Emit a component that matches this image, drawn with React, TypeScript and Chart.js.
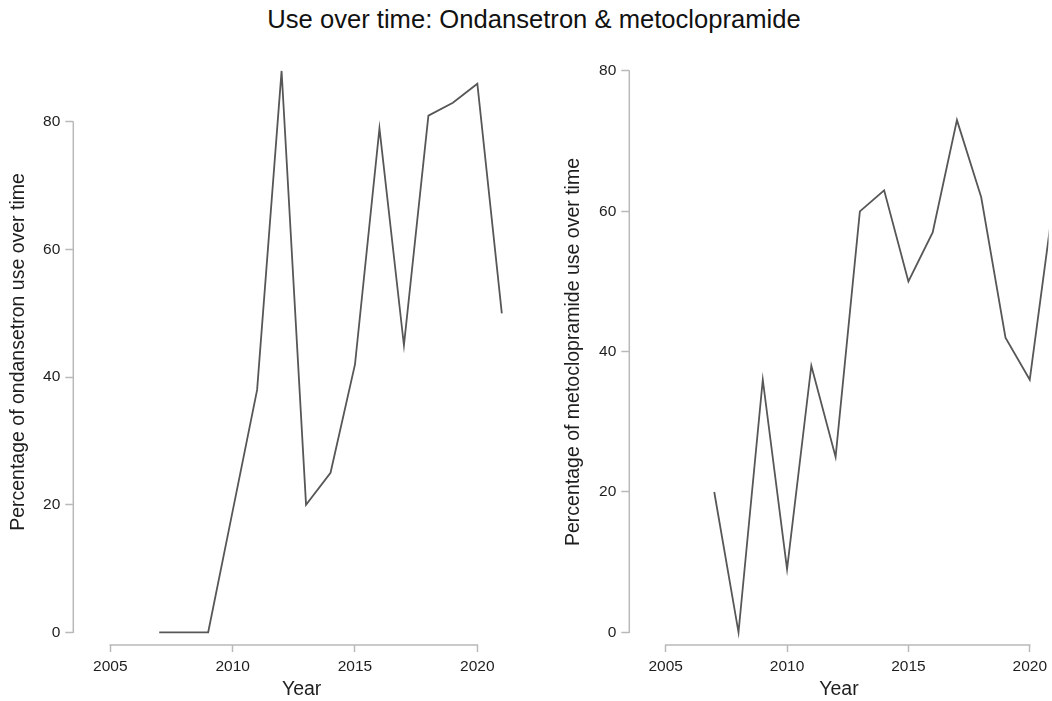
import React, { useEffect, useRef } from "react";
import { Chart, registerables } from "chart.js";

Chart.register(...registerables);

// ---- data ----
const years = [2007, 2008, 2009, 2010, 2011, 2012, 2013, 2014, 2015, 2016, 2017, 2018, 2019, 2020, 2021];
const ondansetron = [0, 0, 0, 19, 38, 88, 20, 25, 42, 79, 45, 81, 83, 86, 50];
const metoclopramide = [20, 0, 36, 9, 38, 25, 60, 63, 50, 57, 73, 62, 42, 36, 62];
const xTicks = [2005, 2010, 2015, 2020];
const yTicks = [0, 20, 40, 60, 80];
const mainTitle = "Use over time: Ondansetron & metoclopramide";
const xTitle = "Year";
const yTitleLeft = "Percentage of ondansetron use over time";
const yTitleRight = "Percentage of metoclopramide use over time";

const FONT = "'Liberation Sans', Arial, Helvetica, sans-serif";
const AXIS_COLOR = "#b9b9b9";
const LINE_COLOR = "#575757";
const TEXT_COLOR = "#1e1e1e";

type PanelProps = {
  values: number[];
  yTitle: string;
  left: number;
  width: number;
  yAxisWidth: number;
  xMin: number;
  xMax: number;
  yMin: number;
  yMax: number;
  yTitlePad: number;
  rightPad: number;
};

function Panel(p: PanelProps) {
  const ref = useRef<HTMLCanvasElement | null>(null);
  useEffect(() => {
    if (!ref.current) return;
    const axisPlugin = {
      id: "offsetAxes",
      beforeDatasetsDraw(chart: any) {
        const { ctx, chartArea, scales } = chart;
        const xs = scales.x;
        const ys = scales.y;
        ctx.save();
        ctx.strokeStyle = AXIS_COLOR;
        ctx.lineWidth = 1.5;
        ctx.beginPath();
        ctx.moveTo(chartArea.left, ys.getPixelForValue(yTicks[0]) + 0.75);
        ctx.lineTo(chartArea.left, ys.getPixelForValue(yTicks[yTicks.length - 1]) - 0.75);
        ctx.moveTo(xs.getPixelForValue(xTicks[0]) - 0.75, chartArea.bottom);
        ctx.lineTo(xs.getPixelForValue(xTicks[xTicks.length - 1]) + 0.75, chartArea.bottom);
        ctx.stroke();
        ctx.restore();
      },
    };
    const chart = new Chart(ref.current, {
      type: "line",
      data: {
        datasets: [
          {
            data: years.map((yr, i) => ({ x: yr, y: p.values[i] })),
            borderColor: LINE_COLOR,
            borderWidth: 1.8,
            pointRadius: 0,
            tension: 0,
            fill: false,
          },
        ],
      },
      options: {
        animation: false,
        responsive: false,
        layout: { padding: { left: 0, right: p.rightPad, top: 59, bottom: 0 } },
        plugins: {
          legend: { display: false },
          tooltip: { enabled: false },
          title: { display: false },
        },
        scales: {
          x: {
            type: "linear",
            min: p.xMin,
            max: p.xMax,
            afterFit: (s: any) => {
              s.height = 56;
            },
            afterBuildTicks: (s: any) => {
              s.ticks = xTicks.map((v) => ({ value: v }));
            },
            ticks: {
              callback: (v: any) => String(v),
              font: { family: FONT, size: 15.5 },
              color: TEXT_COLOR,
              padding: 5,
              maxRotation: 0,
              autoSkip: false,
            },
            grid: {
              drawOnChartArea: false,
              drawTicks: true,
              tickLength: 7,
              tickColor: AXIS_COLOR,
              tickWidth: 1.5,
            },
            border: { display: false },
            title: {
              display: true,
              text: xTitle,
              color: TEXT_COLOR,
              font: { family: FONT, size: 19.5, lineHeight: 1 },
              padding: { top: 0, bottom: 1.25 },
            },
          },
          y: {
            type: "linear",
            min: p.yMin,
            max: p.yMax,
            afterFit: (s: any) => {
              s.width = p.yAxisWidth;
            },
            afterBuildTicks: (s: any) => {
              s.ticks = yTicks.map((v) => ({ value: v }));
            },
            ticks: {
              callback: (v: any) => String(v),
              font: { family: FONT, size: 15.5 },
              color: TEXT_COLOR,
              padding: 5,
              autoSkip: false,
            },
            grid: {
              drawOnChartArea: false,
              drawTicks: true,
              tickLength: 8,
              tickColor: AXIS_COLOR,
              tickWidth: 1.5,
            },
            border: { display: false },
            title: {
              display: true,
              text: p.yTitle,
              color: TEXT_COLOR,
              font: { family: FONT, size: 19.5, lineHeight: 1 },
              padding: { top: p.yTitlePad, bottom: 0 },
            },
          },
        },
      },
      plugins: [axisPlugin],
    } as any);
    return () => chart.destroy();
  }, []);
  return (
    <canvas
      ref={ref}
      width={p.width}
      height={701}
      style={{ position: "absolute", left: p.left, top: 0, width: p.width, height: 701 }}
    />
  );
}

export default function App() {
  return (
    <div style={{ position: "absolute", left: 0, top: 0, width: 1052, height: 701, background: "#fff", overflow: "hidden" }}>
      <div
        style={{
          position: "absolute",
          left: 534,
          top: 4.4,
          transform: "translateX(-50%)",
          whiteSpace: "nowrap",
          fontFamily: FONT,
          fontSize: 25.6,
          lineHeight: "30px",
          color: "#111",
        }}
      >
        {mainTitle}
      </div>
      <Panel
        values={ondansetron}
        yTitle={yTitleLeft}
        left={0}
        width={540}
        yAxisWidth={73.3}
        xMin={2003.488}
        xMax={2022.152}
        yMin={-1.991}
        yMax={89.87}
        yTitlePad={9.25}
        rightPad={10}
      />
      <Panel
        values={metoclopramide}
        yTitle={yTitleRight}
        left={540}
        width={512}
        yAxisWidth={89.3}
        xMin={2003.5}
        xMax={2020.774}
        yMin={-1.81}
        yMax={81.71}
        yTitlePad={24.25}
        rightPad={0}
      />
    </div>
  );
}
